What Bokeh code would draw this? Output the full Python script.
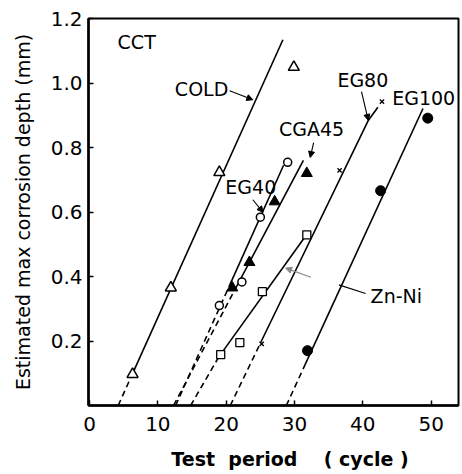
from bokeh.plotting import figure
from bokeh.models import Range1d, FixedTicker, Arrow, NormalHead, NumeralTickFormatter
from bokeh.embed import file_html
from bokeh.resources import INLINE
from bokeh.core.properties import value

# ---- data ----
x_ticks = [0, 10, 20, 30, 40, 50]
y_ticks = [0.2, 0.4, 0.6, 0.8, 1.0, 1.2]

cold_x = [6.3, 11.9, 19.0, 29.9]
cold_y = [0.097, 0.365, 0.723, 1.049]
cold_fit_x = [4.2, 6.3, 28.3]
cold_fit_y = [0.0, 0.099, 1.134]

eg40_x = [19.0, 22.3, 25.0, 29.0]
eg40_y = [0.310, 0.383, 0.584, 0.754]
eg40_fit_x = [12.6, 20.4, 28.4]
eg40_fit_y = [0.0, 0.368, 0.745]

cga45_x = [20.9, 23.4, 27.1, 31.8]
cga45_y = [0.365, 0.444, 0.632, 0.720]
cga45_fit_x = [12.3, 21.4, 31.3]
cga45_fit_y = [0.0, 0.364, 0.760]

eg80_x = [25.2, 36.6, 42.8]
eg80_y = [0.191, 0.729, 0.942]
eg80_fit_x = [20.6, 25.0, 40.8, 42.2]
eg80_fit_y = [0.0, 0.193, 0.884, 0.925]

eg100_x = [31.9, 42.6, 49.5]
eg100_y = [0.170, 0.666, 0.891]
eg100_fit_x = [28.8, 31.6, 48.8]
eg100_fit_y = [0.0, 0.129, 0.921]

znni_x = [19.2, 22.0, 25.3, 31.8]
znni_y = [0.158, 0.195, 0.353, 0.529]
znni_fit_x = [14.8, 18.9, 31.6]
znni_fit_y = [0.0, 0.150, 0.525]

label_text = ["CCT", "COLD", "EG80", "EG100", "CGA45", "EG40", "Zn-Ni"]
label_x = [6.9, 16.4, 40.0, 48.9, 32.5, 23.6, 44.9]
label_y = [1.128, 0.982, 1.009, 0.954, 0.857, 0.678, 0.340]

# leader arrows: (x_start, y_start, x_end, y_end)
arrow_x0 = [20.5, 39.8, 32.8, 23.9, 32.4]
arrow_y0 = [0.976, 0.973, 0.815, 0.638, 0.398]
arrow_x1 = [23.9, 40.8, 32.3, 25.4, 28.7]
arrow_y1 = [0.948, 0.884, 0.769, 0.599, 0.426]
# plain leader (Zn-Ni)
lead_x = [40.4, 36.5]
lead_y = [0.347, 0.374]

FONT = "DejaVu Sans"
NB = "\u00a0"

p = figure(width=460, height=472, output_backend="svg", toolbar_location=None,
           x_range=Range1d(-0.15, 54.0), y_range=Range1d(0, 1.2),
           min_border_left=88, min_border_right=2, min_border_top=18,
           min_border_bottom=59)
p.background_fill_color = "white"
p.border_fill_color = "white"
p.outline_line_color = "black"
p.outline_line_width = 2
p.xgrid.visible = False
p.ygrid.visible = False

for ax in (p.xaxis[0], p.yaxis[0]):
    ax.axis_line_width = 2.5
    ax.axis_line_color = "black"
    ax.major_tick_in = 5
    ax.major_tick_out = 0
    ax.minor_tick_in = 0
    ax.minor_tick_out = 0
    ax.major_tick_line_width = 1.5
    ax.major_label_text_font = FONT
    ax.major_label_text_font_size = "20px"
    ax.major_label_text_color = "black"

p.xaxis.ticker = FixedTicker(ticks=x_ticks)
p.yaxis.ticker = FixedTicker(ticks=y_ticks)
p.yaxis.formatter = NumeralTickFormatter(format="0.0")
p.xaxis.major_label_standoff = 11
p.yaxis.major_label_standoff = 6

p.yaxis.axis_label = "Estimated max corrosion depth (mm)"
p.yaxis.axis_label_text_font = FONT
p.yaxis.axis_label_text_font_size = "19px"
p.yaxis.axis_label_text_font_style = "normal"
p.yaxis.axis_label_text_color = "black"
p.yaxis.axis_label_standoff = 14

p.xaxis.axis_label = (NB * 5) + "Test" + NB * 2 + "period" + NB * 4 + "(" + NB + "cycle" + NB + ")"
p.xaxis.axis_label_text_font = FONT
p.xaxis.axis_label_text_font_size = "19px"
p.xaxis.axis_label_text_font_style = "bold"
p.xaxis.axis_label_text_color = "black"
p.xaxis.axis_label_standoff = 14

LW = 1.6
DASH = "6 4"
series = [
    (cold_fit_x, cold_fit_y),
    (eg40_fit_x, eg40_fit_y),
    (cga45_fit_x, cga45_fit_y),
    (eg80_fit_x, eg80_fit_y),
    (eg100_fit_x, eg100_fit_y),
    (znni_fit_x, znni_fit_y),
]
for fx, fy in series:
    p.line(fx[:2], fy[:2], line_color="black", line_width=LW, line_dash=DASH)
    p.line(fx[1:], fy[1:], line_color="black", line_width=LW)

# markers
p.scatter(cold_x, cold_y, marker="triangle", size=11, fill_color="white",
          line_color="black", line_width=1.5)
p.scatter(eg40_x, eg40_y, marker="circle", size=8, fill_color="white",
          line_color="black", line_width=1.5)
p.scatter(cga45_x, cga45_y, marker="triangle", size=11, fill_color="black",
          line_color="black", line_width=1)
p.scatter(eg80_x, eg80_y, marker="x", size=6, line_color="black", line_width=1.3)
p.scatter(eg100_x, eg100_y, marker="circle", size=10, fill_color="black",
          line_color="black")
p.scatter(znni_x, znni_y, marker="square", size=8, fill_color="white",
          line_color="black", line_width=1.3)

# leaders
for i in range(len(arrow_x0)):
    col = "#888888" if i == 4 else "black"
    p.add_layout(Arrow(end=NormalHead(size=6, fill_color=col, line_color=col),
                       x_start=arrow_x0[i], y_start=arrow_y0[i],
                       x_end=arrow_x1[i], y_end=arrow_y1[i],
                       line_color=col, line_width=1.1))
p.line(lead_x, lead_y, line_color="black", line_width=1.1)

# series labels
p.text(x=label_x, y=label_y, text=label_text, text_font=value(FONT),
       text_font_size=value("19px"), text_align="center",
       text_baseline="middle", text_color="black")

open("out.html", "w").write(file_html(p, INLINE))
